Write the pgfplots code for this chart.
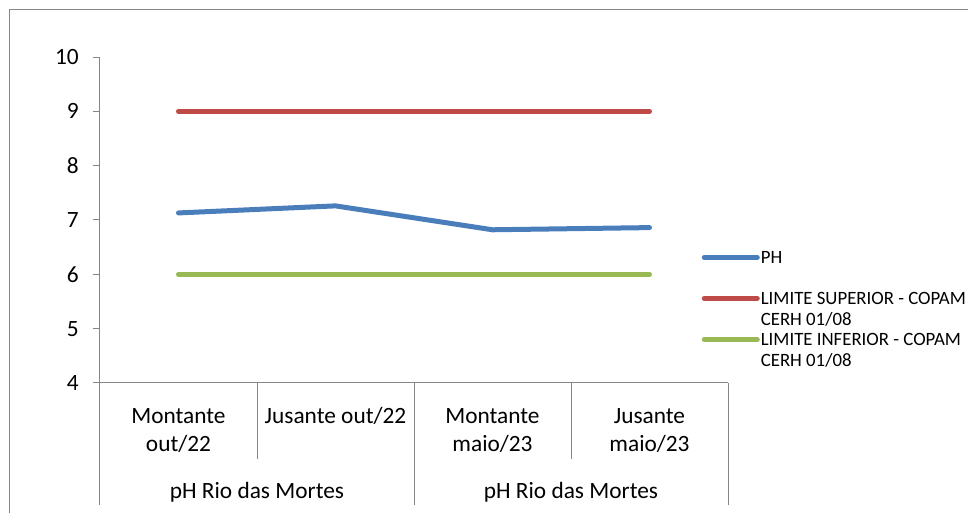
\documentclass[border=0pt]{standalone}
\usepackage{pgfplots}
\pgfplotsset{compat=1.18}
\usepackage{fontspec}
\setmainfont{Carlito}
\definecolor{phblue}{HTML}{4A7EBB}
\definecolor{limred}{HTML}{BE4B48}
\definecolor{limgreen}{HTML}{98B954}
\definecolor{axgray}{HTML}{868686}
\begin{document}
\begin{tikzpicture}[x=0.75pt,y=0.75pt]
\clip (0,0) rectangle (968,513);
\draw[axgray, line width=1.2pt] (9.5,-20) -- (9.5,503.5) -- (1000,503.5);
\begin{axis}[
  at={(75pt,97.5pt)}, anchor=south west,
  width=471pt, height=244.5pt, scale only axis,
  xmin=-0.5, xmax=3.5, ymin=4, ymax=10,
  axis x line=bottom, axis y line=left,
  axis line style={axgray, line width=0.75pt, -},
  ytick={4,5,6,7,8,9,10},
  tick align=outside,
  ytick style={axgray, line width=0.75pt},
  major tick length=5.25pt,
  xtick={0,1,2,3}, xtick style={draw=none},
  xticklabels={{\strut Montante\\out/22},{\strut Jusante out/22},{\strut Montante\\maio/23},{\strut Jusante\\maio/23}},
  xticklabel style={align=center, anchor=north, inner sep=0pt, yshift=-9.9pt, font=\fontsize{17.5}{21}\selectfont},
  yticklabel style={anchor=east, inner sep=0pt, xshift=-10.5pt, font=\fontsize{17.5}{21}\selectfont},
  /pgf/number format/assume math mode=true,
  clip=false,
  legend style={at={(0.9578,0.4181)}, anchor=north west, draw=none, fill=none, inner sep=0pt, row sep=0pt, column sep=0.8pt,
    nodes={inner sep=0pt, text height=12.26pt, text depth=3.18pt, font=\fontsize{14.1}{16}\selectfont}},
  legend cell align=left,
  legend image code/.code={\draw[#1] (0pt,0pt) -- (39.75pt,0pt);},
]
\addplot[phblue, line width=3.75pt, line cap=round, line join=round] coordinates {(0,7.13) (1,7.26) (2,6.82) (3,6.86)};
\addlegendentry{PH}
\addlegendimage{empty legend}
\addlegendentry{}
\addplot[limred, line width=3.75pt, line cap=round, line join=round] coordinates {(0,9) (1,9) (2,9) (3,9)};
\addlegendentry{LIMITE SUPERIOR - COPAM}
\addlegendimage{empty legend}
\addlegendentry{CERH 01/08}
\addplot[limgreen, line width=3.75pt, line cap=round, line join=round] coordinates {(0,6) (1,6) (2,6) (3,6)};
\addlegendentry{LIMITE INFERIOR - COPAM}
\addlegendimage{empty legend}
\addlegendentry{CERH 01/08}
\draw[axgray, line width=0.75pt] (axis cs:-0.5,4) -- ++(0pt,-91.5pt);
\draw[axgray, line width=0.75pt] (axis cs:0.5,4) -- ++(0pt,-57pt);
\draw[axgray, line width=0.75pt] (axis cs:1.5,4) -- ++(0pt,-91.5pt);
\draw[axgray, line width=0.75pt] (axis cs:2.5,4) -- ++(0pt,-57pt);
\draw[axgray, line width=0.75pt] (axis cs:3.5,4) -- ++(0pt,-91.5pt);
\node[anchor=base, yshift=-87pt, inner sep=0pt, font=\fontsize{17.5}{21}\selectfont] at (axis cs:0.5,4) {pH Rio das Mortes};
\node[anchor=base, yshift=-87pt, inner sep=0pt, font=\fontsize{17.5}{21}\selectfont] at (axis cs:2.5,4) {pH Rio das Mortes};
\end{axis}
\end{tikzpicture}
\end{document}
